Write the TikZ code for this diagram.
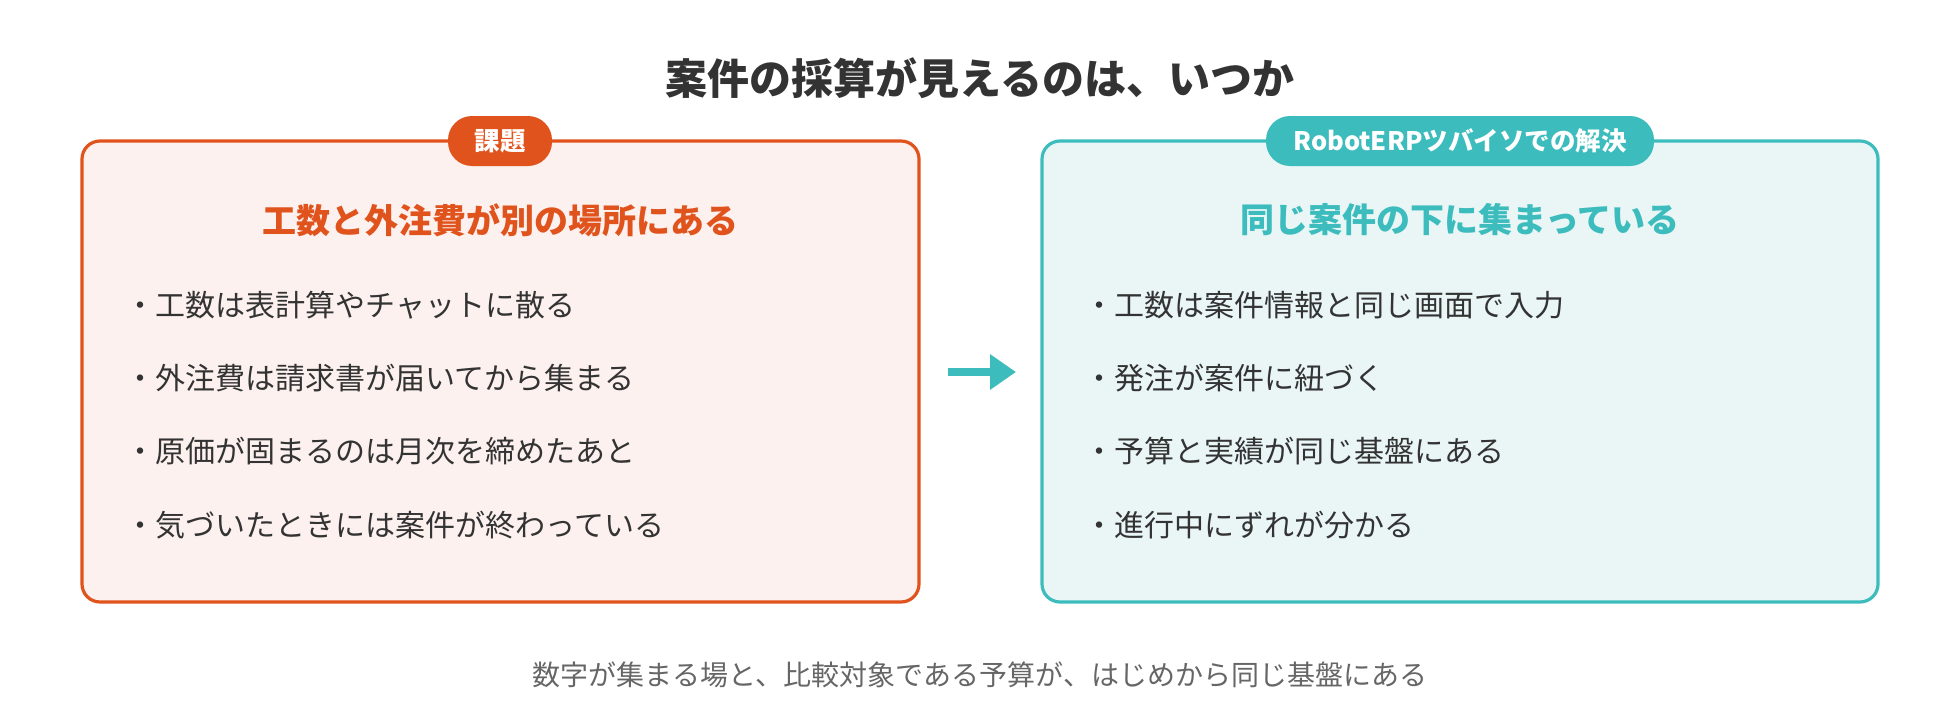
\documentclass[tikz,border=0pt]{standalone}
\usepackage{fontspec}
\setmainfont{Noto Sans CJK JP}
\usetikzlibrary{arrows.meta}
\definecolor{org}{HTML}{E0531C}
\definecolor{orgbg}{HTML}{FCF1EE}
\definecolor{teal}{HTML}{3DBCBD}
\definecolor{tealbg}{HTML}{EAF6F6}
\definecolor{txt}{HTML}{333333}
\definecolor{foot}{HTML}{666666}
\begin{document}
\begin{tikzpicture}[x=1pt,y=-1pt,
  box/.style={draw=#1,line width=3.2pt,rounded corners=18pt,inner sep=0pt},
  tag/.style={fill=#1,rounded corners=24pt,text=white,font=\fontsize{25.5}{30}\selectfont\bfseries,minimum height=50pt,inner xsep=14pt},
  head/.style={text=#1,font=\fontsize{34}{40}\selectfont\bfseries},
  item/.style={anchor=west,text=txt,font=\fontsize{30}{36}\selectfont}]
\useasboundingbox (0,0) rectangle (1960,720);
\node[text=txt,font=\fontsize{42}{50}\selectfont\bfseries] (title) at (980,78) {案件の採算が見えるのは、いつか};
\draw[box=org,fill=orgbg] (82,141) rectangle (919,602);
\draw[box=teal,fill=tealbg] (1042,141) rectangle (1878,602);
\node[tag=org,minimum width=104pt] (t1) at (500,141) {課題};
\node[tag=teal,minimum width=388pt] (t2) at (1460,141) {RobotERPツバイソでの解決};
\node[head=org] (h1) at (500,220) {工数と外注費が別の場所にある};
\node[head=teal] (h2) at (1460,220) {同じ案件の下に集まっている};
\node[item] (a1) at (122,305) {・工数は表計算やチャットに散る};
\node[item] (a2) at (122,378) {・外注費は請求書が届いてから集まる};
\node[item] (a3) at (122,451) {・原価が固まるのは月次を締めたあと};
\node[item] (a4) at (122,525) {・気づいたときには案件が終わっている};
\node[item] (b1) at (1081,305) {・工数は案件情報と同じ画面で入力};
\node[item] (b2) at (1081,378) {・発注が案件に紐づく};
\node[item] (b3) at (1081,451) {・予算と実績が同じ基盤にある};
\node[item] (b4) at (1081,525) {・進行中にずれが分かる};
\coordinate (p1) at (948,372);
\coordinate (p2) at (1016,372);
\draw[teal,line width=8pt,-{Triangle[length=26pt,width=34pt]}] (p1) -- (p2);
\node[text=foot,font=\fontsize{28}{34}\selectfont] (f) at (980,675) {数字が集まる場と、比較対象である予算が、はじめから同じ基盤にある};
\end{tikzpicture}
\end{document}
